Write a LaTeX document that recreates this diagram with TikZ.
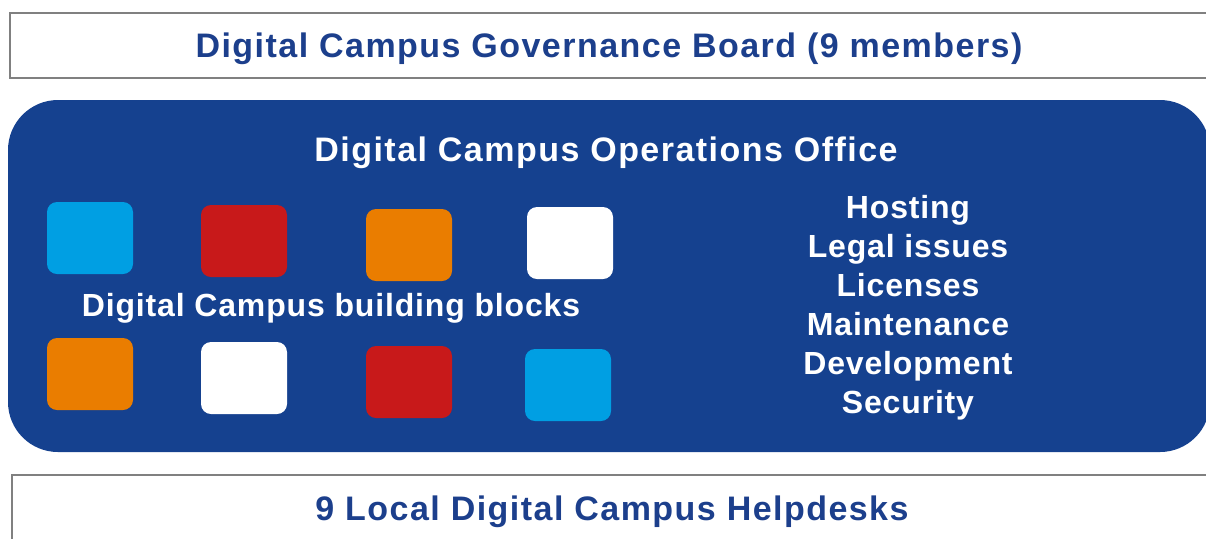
\documentclass[tikz,border=0pt]{standalone}
\usepackage{fontspec}
\setmainfont{Liberation Sans}
\newfontfamily\widesans[LetterSpace=4.3]{Liberation Sans}
\newfontfamily\dutysans[LetterSpace=2.6]{Liberation Sans}
\usetikzlibrary{positioning}
\definecolor{boardblue}{HTML}{1C3F8C}
\definecolor{officeblue}{HTML}{15418F}
\definecolor{blockcyan}{HTML}{009FE3}
\definecolor{blockred}{HTML}{C8191A}
\definecolor{blockorange}{HTML}{EA7D00}
\definecolor{framegray}{HTML}{808080}

\begin{document}
\begin{tikzpicture}[x=0.5pt,y=-0.5pt,
    frame/.style={draw=framegray,line width=1.2pt,fill=white},
    bigtext/.style={anchor=base,font=\widesans\bfseries\fontsize{17}{20}\selectfont},
    block/.style={rounded corners=5pt,minimum width=43pt,minimum height=36pt,inner sep=0pt},
    duty/.style={anchor=base,text=white,font=\dutysans\bfseries\fontsize{16}{19}\selectfont}]
  \useasboundingbox (0,0) rectangle (1206,538);
  \clip (0,0) rectangle (1206,538);
  \draw[frame] (10,13) rectangle (1230,78);
  \node[bigtext,text=boardblue] (board) at (609,57) {Digital Campus Governance Board (9 members)};
  \fill[officeblue,rounded corners=25pt] (8,100) rectangle (1210,452);
  \node[bigtext,text=white] (office) at (606,161) {Digital Campus Operations Office};
  \node[block,fill=blockcyan] (b1) at (90,238) {};
  \node[block,fill=blockred] (b2) at (244,241) {};
  \node[block,fill=blockorange] (b3) at (409,245) {};
  \node[block,fill=white] (b4) at (570,243) {};
  \node[block,fill=blockorange] (b5) at (90,374) {};
  \node[block,fill=white] (b6) at (244,378) {};
  \node[block,fill=blockred] (b7) at (409,382) {};
  \node[block,fill=blockcyan] (b8) at (568,385) {};
  \node[duty] (blocks) at (331,316) {Digital Campus building blocks};
  \node[duty] (hosting) at (908,218) {Hosting};
  \node[duty] (legal) at (908,257) {Legal issues};
  \node[duty] (licenses) at (908,296) {Licenses};
  \node[duty] (maint) at (908,335) {Maintenance};
  \node[duty] (devel) at (908,374) {Development};
  \node[duty] (security) at (908,413) {Security};
  \draw[frame] (12,475) rectangle (1230,560);
  \node[bigtext,text=boardblue] (helpdesks) at (612,520) {9 Local Digital Campus Helpdesks};
\end{tikzpicture}
\end{document}
